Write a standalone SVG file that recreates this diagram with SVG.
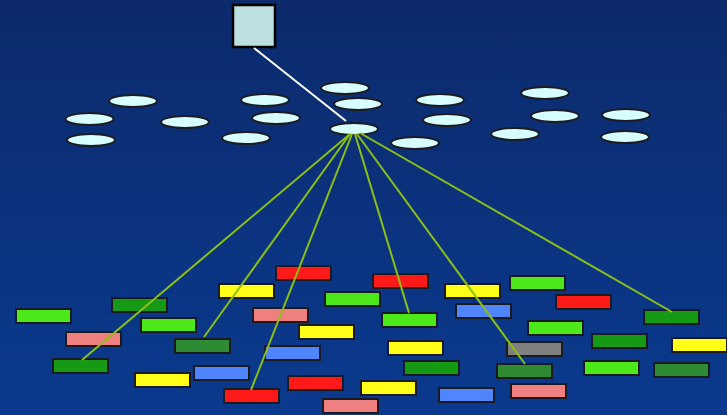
<svg xmlns="http://www.w3.org/2000/svg" width="727" height="415" viewBox="0 0 727 415">
<defs>
<linearGradient id="bg" x1="0" y1="0" x2="0" y2="1">
<stop offset="0" stop-color="#0c2a6c"/>
<stop offset="1" stop-color="#0a3a8e"/>
</linearGradient>
<style>
.e{fill:#d8ffff;stroke:#1c1c24;stroke-width:2}
.r{stroke:#1a1a22;stroke-width:2}
.bg{fill:#4ce81a}.dg{fill:#169a16}.mg{fill:#2e8b34}.pk{fill:#f08080}
.yl{fill:#ffff1a}.rd{fill:#ff1a1a}.bl{fill:#4f86ff}.gr{fill:#808080}
.c{stroke:#8cc014;stroke-width:2;fill:none}
</style>
</defs>
<rect width="727" height="415" fill="url(#bg)"/>
<g id="box"><rect x="233" y="5" width="42" height="42" fill="#bcdfe0" stroke="#000" stroke-width="2.5"/></g>
<g id="ellipses">
<ellipse id="e1" class="e" cx="133" cy="101" rx="24" ry="6"/>
<ellipse id="e2" class="e" cx="89.5" cy="119" rx="24" ry="6"/>
<ellipse id="e3" class="e" cx="91" cy="140" rx="24" ry="6"/>
<ellipse id="e4" class="e" cx="185" cy="122" rx="24" ry="6"/>
<ellipse id="e5" class="e" cx="265" cy="100" rx="24" ry="6"/>
<ellipse id="e6" class="e" cx="276" cy="118" rx="24" ry="6"/>
<ellipse id="e7" class="e" cx="246" cy="138" rx="24" ry="6"/>
<ellipse id="e8" class="e" cx="345" cy="88" rx="24" ry="6"/>
<ellipse id="e9" class="e" cx="358" cy="104" rx="24" ry="6"/>
<ellipse id="hub" class="e" cx="354" cy="129" rx="24" ry="6"/>
<ellipse id="e10" class="e" cx="440" cy="100" rx="24" ry="6"/>
<ellipse id="e11" class="e" cx="447" cy="120" rx="24" ry="6"/>
<ellipse id="e12" class="e" cx="415" cy="143" rx="24" ry="6"/>
<ellipse id="e13" class="e" cx="545" cy="93" rx="24" ry="6"/>
<ellipse id="e14" class="e" cx="555" cy="116" rx="24" ry="6"/>
<ellipse id="e15" class="e" cx="515" cy="134" rx="24" ry="6"/>
<ellipse id="e16" class="e" cx="626" cy="115" rx="24" ry="6"/>
<ellipse id="e17" class="e" cx="625" cy="137" rx="24" ry="6"/>
</g>
<g id="rects">
<rect id="r1" class="r bg" x="16" y="309" width="55" height="14"/>
<rect id="r2" class="r dg" x="112" y="298" width="55" height="14"/>
<rect id="r3" class="r pk" x="66" y="332" width="55" height="14"/>
<rect id="r4" class="r bg" x="141" y="318" width="55" height="14"/>
<rect id="r5" class="r dg" x="53" y="359" width="55" height="14"/>
<rect id="r6" class="r yl" x="135" y="373" width="55" height="14"/>
<rect id="r7" class="r mg" x="175" y="339" width="55" height="14"/>
<rect id="r8" class="r bl" x="194" y="366" width="55" height="14"/>
<rect id="r9" class="r yl" x="219" y="284" width="55" height="14"/>
<rect id="r10" class="r rd" x="276" y="266" width="55" height="14"/>
<rect id="r11" class="r pk" x="253" y="308" width="55" height="14"/>
<rect id="r12" class="r bg" x="325" y="292" width="55" height="14"/>
<rect id="r13" class="r yl" x="299" y="325" width="55" height="14"/>
<rect id="r14" class="r bl" x="265" y="346" width="55" height="14"/>
<rect id="r15" class="r rd" x="288" y="376" width="55" height="14"/>
<rect id="r16" class="r rd" x="224" y="389" width="55" height="14"/>
<rect id="r17" class="r pk" x="323" y="399" width="55" height="14"/>
<rect id="r18" class="r yl" x="361" y="381" width="55" height="14"/>
<rect id="r19" class="r rd" x="373" y="274" width="55" height="14"/>
<rect id="r20" class="r yl" x="445" y="284" width="55" height="14"/>
<rect id="r21" class="r bg" x="510" y="276" width="55" height="14"/>
<rect id="r22" class="r bl" x="456" y="304" width="55" height="14"/>
<rect id="r23" class="r rd" x="556" y="295" width="55" height="14"/>
<rect id="r24" class="r dg" x="644" y="310" width="55" height="14"/>
<rect id="r25" class="r bg" x="382" y="313" width="55" height="14"/>
<rect id="r26" class="r bg" x="528" y="321" width="55" height="14"/>
<rect id="r27" class="r dg" x="592" y="334" width="55" height="14"/>
<rect id="r28" class="r yl" x="672" y="338" width="55" height="14"/>
<rect id="r29" class="r yl" x="388" y="341" width="55" height="14"/>
<rect id="r30" class="r gr" x="507" y="342" width="55" height="14"/>
<rect id="r31" class="r dg" x="404" y="361" width="55" height="14"/>
<rect id="r32" class="r mg" x="497" y="364" width="55" height="14"/>
<rect id="r33" class="r bg" x="584" y="361" width="55" height="14"/>
<rect id="r34" class="r mg" x="654" y="363" width="55" height="14"/>
<rect id="r35" class="r bl" x="439" y="388" width="55" height="14"/>
<rect id="r36" class="r pk" x="511" y="384" width="55" height="14"/>
</g>
<g id="connectors">
<line x1="254" y1="48" x2="346" y2="121" stroke="#ffffff" stroke-width="2"/>
<line class="c" x1="350" y1="134" x2="82" y2="360"/>
<line class="c" x1="350" y1="134" x2="204" y2="337"/>
<line class="c" x1="352" y1="134" x2="251" y2="390"/>
<line class="c" x1="355" y1="134" x2="409" y2="313"/>
<line class="c" x1="357" y1="134" x2="525" y2="364"/>
<line class="c" x1="360" y1="133" x2="672" y2="312"/>
</g>
</svg>
